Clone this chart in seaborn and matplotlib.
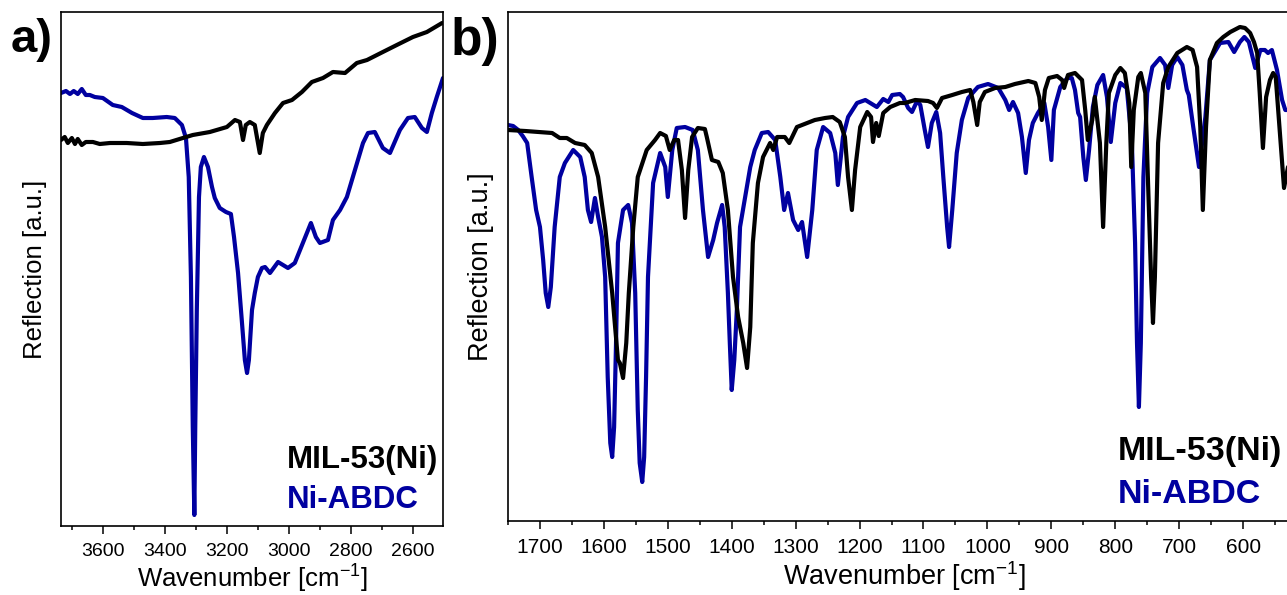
import matplotlib
matplotlib.use('Agg')
import matplotlib.pyplot as plt
import seaborn as sns
import pandas as pd
from matplotlib.ticker import MultipleLocator

# ---------------- data ----------------
# Panel a: 3735-2500 cm-1
a_wn_mil = [3735, 3723, 3713, 3700, 3690, 3681, 3668, 3655, 3632, 3610, 3577, 3523, 3471, 3416, 3384,
            3342, 3310, 3255, 3200, 3174, 3158, 3148, 3139, 3126, 3110, 3094, 3084, 3071, 3045, 3019,
            2990, 2958, 2926, 2890, 2858, 2819, 2781, 2748, 2697, 2652, 2600, 2555, 2506]
a_mil = [386, 389, 383, 388, 382, 387, 381, 384, 384, 382, 383, 383, 382, 383, 384,
         388, 391, 394, 399, 406, 404, 386, 401, 404, 401, 373, 393, 401, 413, 423,
         426, 434, 444, 448, 454, 453, 463, 466, 474, 481, 489, 494, 503]

a_wn_abdc = [3735, 3719, 3706, 3694, 3681, 3668, 3655, 3642, 3626, 3600, 3568, 3539, 3506, 3471, 3439,
             3394, 3368, 3345, 3332, 3323, 3316, 3310, 3305, 3302, 3297, 3290, 3284, 3274, 3261, 3248,
             3239, 3223, 3203, 3187, 3177, 3164, 3152, 3142, 3135, 3129, 3119, 3110, 3100, 3087, 3077,
             3061, 3035, 3003, 2981, 2955, 2929, 2913, 2900, 2874, 2858, 2835, 2813, 2787, 2761, 2745,
             2723, 2697, 2674, 2642, 2616, 2594, 2571, 2555, 2539, 2523, 2503]
a_abdc = [433, 435, 432, 435, 432, 437, 431, 431, 429, 428, 421, 419, 413, 408, 408,
          409, 408, 401, 388, 349, 249, 99, 11, 99, 216, 329, 359, 369, 359, 339,
          328, 318, 314, 312, 289, 253, 206, 166, 153, 166, 216, 233, 249, 258, 259,
          253, 264, 258, 263, 283, 303, 289, 283, 286, 306, 316, 329, 356, 383, 393,
          394, 378, 373, 396, 408, 409, 398, 394, 413, 429, 448]

# Panel b: 1750-530 cm-1
b_wn_mil = [1750, 1723, 1703, 1681, 1669, 1658, 1645, 1630, 1619, 1609,
            1598, 1587, 1578, 1575, 1570, 1565, 1561, 1554, 1547, 1533,
            1520, 1512, 1503, 1497, 1490, 1484, 1478, 1473, 1468, 1462,
            1453, 1442, 1439, 1431, 1421, 1414, 1406, 1398, 1390, 1382,
            1376, 1371, 1367, 1359, 1351, 1340, 1335, 1329, 1317, 1310,
            1298, 1282, 1270, 1254, 1242, 1231, 1223, 1218, 1212, 1207,
            1199, 1188, 1182, 1179, 1174, 1170, 1163, 1152, 1137, 1129,
            1113, 1093, 1085, 1079, 1071, 1055, 1040, 1027, 1022, 1016,
            1012, 1004, 988, 972, 957, 936, 925, 919, 915, 910,
            904, 891, 883, 880, 874, 863, 852, 847, 843, 836,
            832, 824, 819, 814, 810, 800, 792, 785, 778, 775,
            771, 764, 760, 753, 749, 744, 741, 738, 733, 725,
            717, 703, 688, 679, 672, 667, 663, 658, 652, 641,
            631, 620, 605, 597, 589, 583, 578, 574, 569, 564,
            558, 553, 549, 542, 536, 528]
b_mil = [391, 390, 389, 388, 383, 383, 378, 376, 368, 344,
         294, 228, 161, 158, 143, 178, 228, 294, 344, 371,
         381, 388, 385, 371, 381, 381, 351, 303, 351, 384,
         393, 392, 384, 361, 359, 348, 311, 244, 204, 178,
         153, 194, 278, 338, 364, 378, 371, 384, 384, 378,
         394, 398, 401, 403, 404, 399, 384, 344, 311, 351,
         394, 409, 404, 379, 398, 385, 408, 414, 418, 418,
         421, 420, 418, 413, 423, 426, 429, 431, 419, 396,
         419, 429, 433, 434, 437, 440, 438, 424, 401, 431,
         443, 445, 441, 433, 446, 448, 441, 411, 381, 401,
         424, 378, 294, 378, 428, 446, 453, 448, 418, 354,
         411, 444, 448, 428, 344, 244, 198, 244, 378, 438,
         454, 468, 474, 471, 454, 394, 311, 394, 461, 478,
         484, 489, 494, 493, 488, 479, 468, 428, 373, 424,
         441, 448, 444, 384, 333, 360]

b_wn_abdc = [1750, 1742, 1734, 1727, 1720, 1713, 1706, 1700, 1695, 1691,
             1687, 1683, 1677, 1669, 1661, 1648, 1637, 1630, 1625, 1620,
             1614, 1609, 1603, 1598, 1594, 1590, 1587, 1584, 1581, 1578,
             1570, 1562, 1556, 1551, 1547, 1544, 1540, 1537, 1534, 1531,
             1523, 1512, 1504, 1500, 1493, 1486, 1473, 1461, 1453, 1445,
             1437, 1429, 1423, 1415, 1411, 1406, 1403, 1400, 1396, 1392,
             1387, 1379, 1371, 1364, 1353, 1343, 1332, 1324, 1318, 1312,
             1304, 1296, 1290, 1282, 1274, 1267, 1257, 1246, 1238, 1234,
             1226, 1218, 1204, 1191, 1173, 1163, 1155, 1149, 1137, 1132,
             1124, 1118, 1110, 1105, 1098, 1093, 1087, 1080, 1074, 1069,
             1063, 1060, 1055, 1048, 1040, 1030, 1015, 999, 983, 972,
             966, 960, 952, 946, 940, 935, 929, 921, 911, 905,
             900, 896, 886, 875, 868, 863, 858, 855, 850, 846,
             841, 835, 828, 819, 813, 807, 800, 792, 782, 774,
             769, 766, 763, 760, 756, 750, 742, 730, 722, 717,
             711, 703, 695, 688, 685, 678, 669, 659, 652, 636,
             623, 614, 605, 598, 591, 581, 573, 566, 561, 555,
             547, 539, 534, 526]
b_abdc = [396, 395, 391, 385, 378, 344, 311, 294, 261, 228,
          214, 234, 294, 344, 358, 371, 364, 344, 311, 299,
          323, 304, 284, 244, 144, 78, 64, 94, 178, 278,
          311, 316, 298, 228, 111, 58, 39, 64, 144, 244,
          338, 368, 354, 324, 371, 393, 394, 391, 371, 311,
          264, 281, 298, 316, 294, 228, 178, 131, 161, 211,
          294, 324, 354, 371, 388, 389, 381, 344, 311, 328,
          301, 291, 299, 264, 311, 371, 394, 388, 368, 336,
          384, 404, 418, 421, 414, 422, 419, 426, 427, 424,
          413, 409, 420, 416, 391, 374, 398, 409, 388, 344,
          294, 274, 311, 368, 401, 423, 434, 437, 433, 421,
          411, 419, 408, 384, 348, 381, 398, 408, 418, 394,
          361, 411, 434, 443, 443, 431, 408, 404, 364, 341,
          371, 414, 436, 446, 424, 379, 418, 438, 433, 378,
          278, 178, 114, 178, 344, 428, 454, 463, 456, 433,
          456, 464, 456, 431, 426, 394, 354, 404, 461, 478,
          479, 469, 479, 484, 479, 453, 471, 471, 468, 471,
          451, 421, 411, 411]

series_names = ['MIL-53(Ni)', 'Ni-ABDC']
series_colors = ['#000000', '#0000A0']

# ---------------- style ----------------
sns.set_theme(style='ticks')
plt.rcParams['font.family'] = ['Liberation Sans', 'DejaVu Sans']
plt.rcParams['mathtext.fontset'] = 'custom'
plt.rcParams['mathtext.rm'] = 'Liberation Sans'
plt.rcParams['mathtext.it'] = 'Liberation Sans'
plt.rcParams['axes.edgecolor'] = 'black'
plt.rcParams['axes.linewidth'] = 1.2
plt.rcParams['text.color'] = 'black'
plt.rcParams['axes.labelcolor'] = 'black'
plt.rcParams['xtick.color'] = 'black'
plt.rcParams['xtick.labelcolor'] = 'black'

W, H = 1287, 595
fig = plt.figure(figsize=(W / 100, H / 100), dpi=100)


def px_axes(left, top, right, bottom):
    return fig.add_axes([left / W, 1 - bottom / H, (right - left) / W, (bottom - top) / H])


ax_a = px_axes(61, 12, 443, 526)
ax_b = px_axes(508, 12, 1300, 521)

df_a = pd.concat([
    pd.DataFrame({'wn': a_wn_mil, 'refl': a_mil, 'sample': series_names[0]}),
    pd.DataFrame({'wn': a_wn_abdc, 'refl': a_abdc, 'sample': series_names[1]}),
])
df_b = pd.concat([
    pd.DataFrame({'wn': b_wn_mil, 'refl': b_mil, 'sample': series_names[0]}),
    pd.DataFrame({'wn': b_wn_abdc, 'refl': b_abdc, 'sample': series_names[1]}),
])

pal = dict(zip(series_names, series_colors))
for ax, df in [(ax_a, df_a), (ax_b, df_b)]:
    sns.lineplot(data=df, x='wn', y='refl', hue='sample', palette=pal, hue_order=series_names[::-1],
                 estimator=None, sort=True, linewidth=3.0, legend=False, ax=ax)
    for ln in ax.lines:
        ln.set_solid_joinstyle('round')
        ln.set_solid_capstyle('round')
    ax.set_yticks([])
    for s in ax.spines.values():
        s.set_visible(True)
        s.set_color('black')
        s.set_linewidth(1.2)

# panel a axes
ax_a.set_xlim(3735, 2503)
ax_a.set_ylim(0, 514)
ax_a.xaxis.set_major_locator(MultipleLocator(200))
ax_a.xaxis.set_minor_locator(MultipleLocator(100))
ax_a.tick_params(axis='x', which='major', direction='out', length=5.5, width=1.1, labelsize=14, pad=6.5,
                 colors='black')
ax_a.tick_params(axis='x', which='minor', direction='out', length=3, width=1.1, colors='black')
ax_a.set_xlabel('Wavenumber [cm$^{-1}$]', fontsize=18.5, labelpad=2, color='black')
ax_a.set_ylabel('Reflection [a.u.]', fontsize=18.5, labelpad=10, color='black')

# panel b axes
ax_b.set_xlim(1750, 511)
ax_b.set_ylim(0, 509)
ax_b.xaxis.set_major_locator(MultipleLocator(100))
ax_b.xaxis.set_minor_locator(MultipleLocator(50))
ax_b.tick_params(axis='x', which='major', direction='out', length=5.5, width=1.1, labelsize=15, pad=6.5,
                 colors='black')
ax_b.tick_params(axis='x', which='minor', direction='out', length=3, width=1.1, colors='black')
ax_b.set_xlabel('Wavenumber [cm$^{-1}$]', fontsize=19.5, labelpad=2, color='black')
ax_b.set_ylabel('Reflection [a.u.]', fontsize=19.5, labelpad=10, color='black')


def ftext(x, y, s, **kw):
    fig.text(x / W, 1 - y / H, s, va='baseline', ha='left', fontweight='bold', **kw)


# panel letters
ftext(11, 52, 'a)', fontsize=34, color='black')
ftext(451, 55, 'b)', fontsize=37, color='black')

# in-plot labels
ftext(287, 468, series_names[0], fontsize=22.5, color=series_colors[0])
ftext(287, 508, series_names[1], fontsize=22.5, color=series_colors[1])
ftext(1118, 460, series_names[0], fontsize=24.5, color=series_colors[0])
ftext(1118, 503, series_names[1], fontsize=24.5, color=series_colors[1])

fig.savefig('out.png', dpi=100)
